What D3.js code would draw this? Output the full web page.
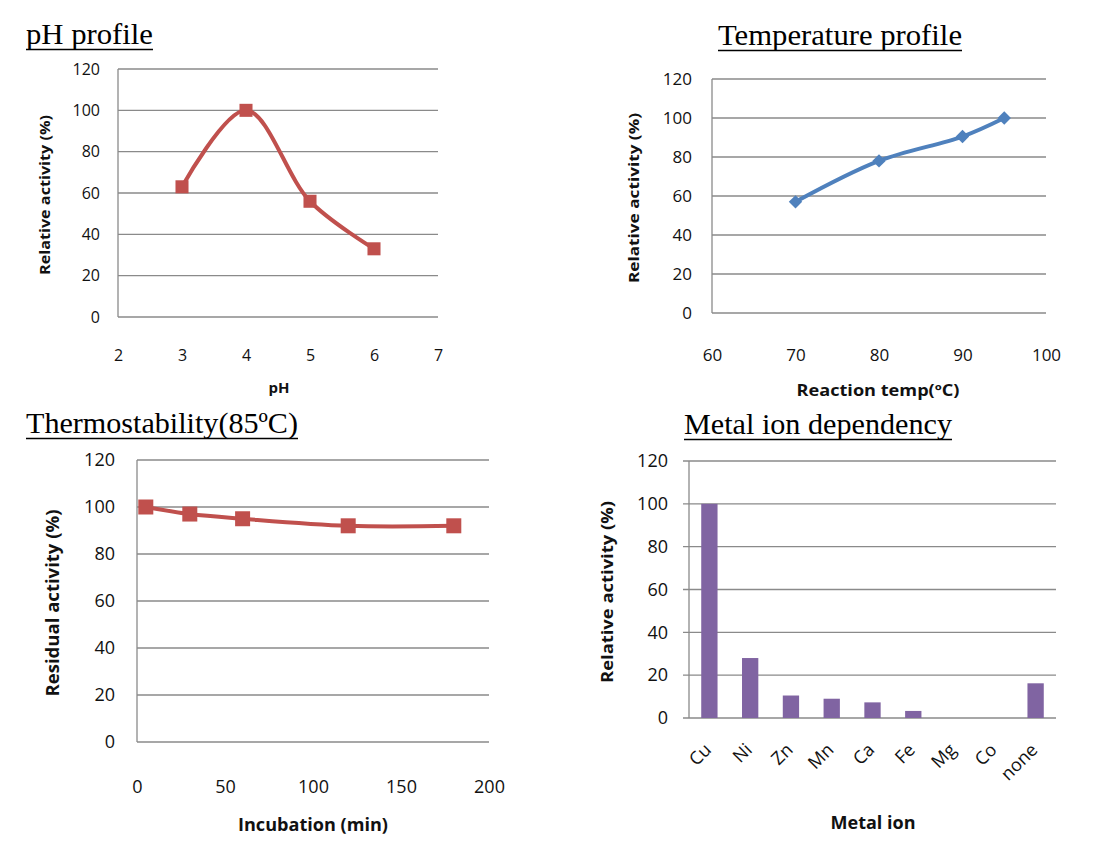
<!DOCTYPE html>
<html>
<head>
<meta charset="utf-8">
<script src="https://cdn.jsdelivr.net/npm/d3@7"></script>
<style>
  body { margin: 0; background: #fff; }
  svg { display: block; }
</style>
</head>
<body>
<svg width="1109" height="856"></svg>
<script>
// pH profile
var phX = [3, 4, 5, 6];
var phY = [63, 100, 56, 33];
// temperature profile
var tempX = [70, 80, 90, 95];
var tempY = [57, 78, 90.5, 100];
// thermostability at 85 C
var incX = [5, 30, 60, 120, 180];
var incY = [100, 97, 95, 92, 92];
// metal ions
var metals = ["Cu", "Ni", "Zn", "Mn", "Ca", "Fe", "Mg", "Co", "none"];
var metalY = [100, 28, 10.5, 9, 7.3, 3.3, 0, 0, 16.2];

var yTicks = [0, 20, 40, 60, 80, 100, 120];
var gridColor = "#8a8a8a";
var tickFont = "'Open Sans', sans-serif";

var svg = d3.select("svg");

function title(txt, x, y, len) {
  svg.append("text")
    .attr("x", x).attr("y", y)
    .attr("font-family", "'Liberation Serif', 'Times New Roman', serif")
    .attr("font-size", 30)
    .attr("textLength", len)
    .attr("lengthAdjust", "spacingAndGlyphs")
    .attr("fill", "#000")
    .text(txt);
  svg.append("line")
    .attr("x1", x).attr("x2", x + len)
    .attr("y1", y + 5.5).attr("y2", y + 5.5)
    .attr("stroke", "#000").attr("stroke-width", 1.6);
}

// draws grid, y axis and axis titles; returns y scale
function frame(p) {
  var y = d3.scaleLinear().domain([0, 120]).range([p.bottom, p.top]);
  var g = svg.append("g");
  g.selectAll(".grid")
    .data(yTicks)
    .enter()
    .append("line")
    .attr("x1", p.left - (p.tickLen || 0))
    .attr("x2", p.right)
    .attr("y1", (d) => y(d))
    .attr("y2", (d) => y(d))
    .attr("stroke", gridColor)
    .attr("stroke-width", 1.3);
  g.append("line")
    .attr("x1", p.left).attr("x2", p.left)
    .attr("y1", p.top).attr("y2", p.bottom)
    .attr("stroke", gridColor).attr("stroke-width", 1.3);

  var ya = svg.append("g")
    .attr("transform", `translate(${p.left - p.yGap},0)`)
    .call(d3.axisLeft(y).tickValues(yTicks).tickSize(0).tickPadding(0));
  ya.select(".domain").remove();
  ya.selectAll("text")
    .attr("font-family", tickFont)
    .attr("font-size", p.tickSize)
    .attr("fill", "#111");

  svg.append("text")
    .attr("transform", `translate(${p.yLabX},${p.yLabY}) rotate(-90)`)
    .attr("text-anchor", "middle")
    .attr("font-family", tickFont)
    .attr("font-weight", "bold")
    .attr("font-size", p.labSize)
    .attr("textLength", p.yLabLen)
    .attr("lengthAdjust", "spacingAndGlyphs")
    .attr("fill", "#111")
    .text(p.yLabel);

  svg.append("text")
    .attr("x", p.xLabX).attr("y", p.xLabY)
    .attr("text-anchor", "middle")
    .attr("font-family", tickFont)
    .attr("font-weight", "bold")
    .attr("font-size", p.xLabSize)
    .attr("textLength", p.xLabLen)
    .attr("lengthAdjust", "spacingAndGlyphs")
    .attr("fill", "#111")
    .text(p.xLabel);
  return y;
}

function linePanel(p, xs, ys) {
  var y = frame(p);
  var x = d3.scaleLinear().domain(p.xDomain).range([p.left, p.right]);
  var xa = svg.append("g")
    .attr("transform", `translate(0,${p.bottom + p.xGap})`)
    .call(d3.axisBottom(x).tickValues(p.xTicks).tickFormat(d3.format("d")).tickSize(0).tickPadding(0));
  xa.select(".domain").remove();
  xa.selectAll("text")
    .attr("font-family", tickFont)
    .attr("font-size", p.tickSize)
    .attr("fill", "#111");

  var pts = xs.map((d, i) => [d, ys[i]]);
  var line = d3.line()
    .x((d) => x(d[0]))
    .y((d) => y(d[1]))
    .curve(d3.curveCatmullRom.alpha(0.5));
  svg.append("path")
    .attr("d", line(pts))
    .attr("fill", "none")
    .attr("stroke", p.color)
    .attr("stroke-width", 4);

  var sym = d3.symbol().type(d3.symbolSquare).size(p.markerSize);
  svg.selectAll(null)
    .data(pts)
    .enter()
    .append("path")
    .attr("d", sym)
    .attr("transform", (d) => `translate(${x(d[0])},${y(d[1])})` + (p.diamond ? " rotate(45)" : ""))
    .attr("fill", p.color);
}

title("pH profile", 26, 44, 127);
title("Temperature profile", 718, 45, 244);
title("Thermostability(85\u00baC)", 26, 433, 272);
title("Metal ion dependency", 684, 434, 268);

linePanel({
  left: 118, right: 438, top: 69, bottom: 317,
  xDomain: [2, 7], xTicks: [2, 3, 4, 5, 6, 7],
  yGap: 18, xGap: 33, tickSize: 16,
  labSize: 14, yLabLen: 160, yLabel: "Relative activity  (%)", yLabX: 50, yLabY: 195,
  xLabSize: 15, xLabLen: 21, xLabel: "pH", xLabX: 279, xLabY: 393,
  color: "#C0504D", markerSize: 170
}, phX, phY);

linePanel({
  left: 712, right: 1046, top: 79, bottom: 313,
  xDomain: [60, 100], xTicks: [60, 70, 80, 90, 100],
  yGap: 20, xGap: 36, tickSize: 17,
  labSize: 15, yLabLen: 170, yLabel: "Relative activity  (%)", yLabX: 639, yLabY: 198,
  xLabSize: 16, xLabLen: 163, xLabel: "Reaction temp(\u00baC)", xLabX: 878, xLabY: 396,
  color: "#4F81BD", markerSize: 90, diamond: true
}, tempX, tempY);

linePanel({
  left: 137, right: 489, top: 460, bottom: 742,
  xDomain: [0, 200], xTicks: [0, 50, 100, 150, 200],
  yGap: 22, xGap: 38, tickSize: 18,
  labSize: 17, yLabLen: 187, yLabel: "Residual activity (%)", yLabX: 59, yLabY: 603,
  xLabSize: 17, xLabLen: 150, xLabel: "Incubation (min)", xLabX: 313, xLabY: 831,
  color: "#C0504D", markerSize: 225
}, incX, incY);

// metal ion bars
var mp = {
  left: 689, right: 1056, top: 461, bottom: 718, tickLen: 6,
  yGap: 21, tickSize: 18,
  labSize: 16, yLabLen: 182, yLabel: "Relative activity  (%)", yLabX: 613, yLabY: 592,
  xLabSize: 17, xLabLen: 85, xLabel: "Metal ion", xLabX: 873, xLabY: 829
};
var my = frame(mp);
var mx = d3.scaleBand().domain(metals).range([mp.left, mp.right]).paddingInner(0.6).paddingOuter(0.3);
svg.selectAll(".bar")
  .data(metals)
  .enter()
  .append("rect")
  .classed("bar", true)
  .attr("x", (d) => mx(d))
  .attr("width", mx.bandwidth())
  .attr("y", (d, i) => my(metalY[i]))
  .attr("height", (d, i) => mp.bottom - my(metalY[i]))
  .attr("fill", "#8064A2");

var band = d3.scaleBand().domain(metals).range([mp.left, mp.right]);
svg.selectAll(".mlab")
  .data(metals)
  .enter()
  .append("text")
  .attr("transform", (d) => `translate(${band(d) + band.bandwidth() / 2 + 3},${mp.bottom + 33}) rotate(-45)`)
  .attr("text-anchor", "end")
  .attr("font-family", tickFont)
  .attr("font-size", 18)
  .attr("fill", "#111")
  .text((d) => d);
</script>
</body>
</html>
